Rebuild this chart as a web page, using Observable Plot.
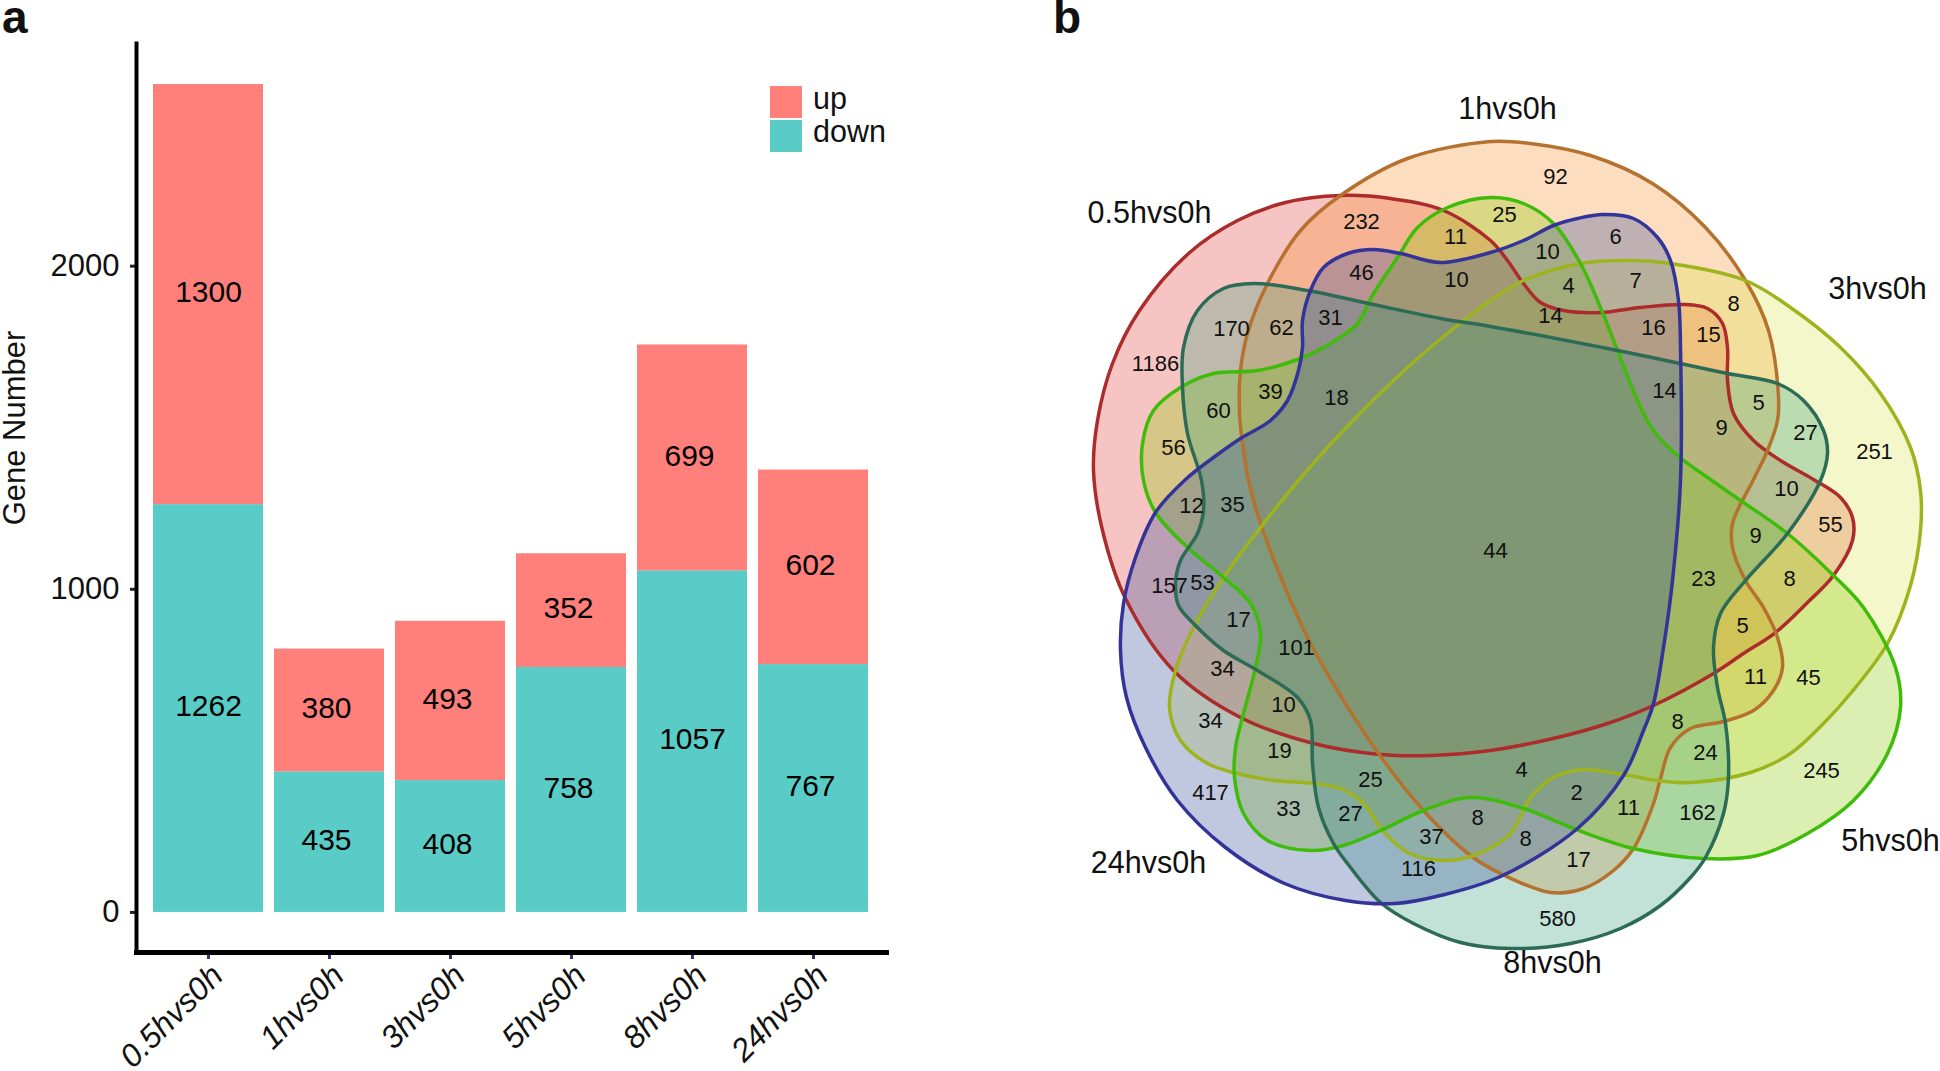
<!DOCTYPE html>
<html>
<head>
<meta charset="utf-8">
<script src="https://cdn.jsdelivr.net/npm/d3@7"></script>
<script src="https://cdn.jsdelivr.net/npm/@observablehq/plot@0.6"></script>
<style>
html,body{margin:0;padding:0;background:#fff;width:1940px;height:1071px;overflow:hidden;font-family:"Liberation Sans",sans-serif}
#a,#b{position:absolute;top:0}
#a{left:0}#b{left:960px}
.tag{position:absolute;top:3px;font-weight:bold;font-size:46px;line-height:28px;color:#111}
.sw{position:absolute;left:770px;width:32px;height:32px}
.lg{position:absolute;left:813px;font-size:30.5px;line-height:32px;color:#111}
</style>
</head>
<body>
<div id="a"></div><div id="b"></div>
<div class="tag" style="left:2px">a</div>
<div class="tag" style="left:1053px">b</div>
<div id="legend"></div>
<script>
// Panel a
const categories = ["0.5hvs0h","1hvs0h","3hvs0h","5hvs0h","8hvs0h","24hvs0h"];
const upValues   = [1300,380,493,352,699,602];
const downValues = [1262,435,408,758,1057,767];
const seriesNames = ["up","down"];
const seriesColors = ["#FF7F7A","#59CCC7"];
const yTicks = [0,1000,2000];

// Panel b: set outlines, in picture units
const set05 = [[1093,470],[1097,420],[1112,363],[1139,310],[1188,253],[1237,220],[1285,202],[1340,195],[1390,198],[1443,210],[1490,240],[1507,260],[1523,283],[1540,302],[1563,310],[1600,312],[1640,307],[1683,304],[1707,308],[1722,323],[1727,347],[1727,380],[1733,413],[1753,440],[1780,460],[1813,479],[1840,497],[1852,517],[1852,540],[1833,575],[1807,602],[1775,632],[1743,653],[1713,673],[1653,705],[1607,723],[1557,737],[1490,750],[1430,755],[1380,754],[1313,743],[1240,717],[1173,670],[1125,598],[1102,530]];
const set1 = [[1490,141],[1407,158],[1340,195],[1300,230],[1267,283],[1247,333],[1240,370],[1239,413],[1242,443],[1248,480],[1260,523],[1287,593],[1310,643],[1343,700],[1378,753],[1423,810],[1470,855],[1500,873],[1550,892],[1583,888],[1613,870],[1633,848],[1653,803],[1660,778],[1670,747],[1690,728],[1723,721],[1753,710],[1773,690],[1782,667],[1777,637],[1763,607],[1745,580],[1732,547],[1732,523],[1753,479],[1767,450],[1777,420],[1778,397],[1768,330],[1745,280],[1705,227],[1652,183],[1590,155],[1530,143]];
const set3 = [[1490,300],[1523,280],[1580,263],[1630,260],[1670,263],[1745,280],[1790,307],[1840,347],[1880,393],[1910,447],[1920,490],[1920,530],[1910,585],[1887,643],[1850,693],[1823,723],[1790,753],[1750,772],[1690,782],[1657,780],[1617,773],[1583,769],[1553,777],[1530,797],[1510,833],[1473,855],[1443,860],[1407,852],[1382,830],[1363,803],[1340,788],[1313,783],[1273,780],[1237,773],[1207,763],[1180,740],[1169,707],[1175,670],[1193,627],[1223,577],[1260,527],[1298,480],[1340,433],[1407,367],[1463,320]];
const set5 = [[1490,197],[1447,207],[1417,227],[1397,257],[1373,293],[1357,323],[1330,343],[1300,358],[1257,370],[1213,373],[1180,387],[1153,410],[1142,443],[1143,480],[1155,512],[1187,547],[1223,577],[1250,603],[1260,633],[1255,667],[1243,713],[1235,747],[1234,777],[1243,813],[1267,840],[1310,850],[1343,845],[1380,830],[1423,810],[1470,797],[1523,808],[1573,828],[1633,848],[1703,858],[1757,855],[1807,833],[1853,800],[1887,753],[1900,707],[1895,667],[1863,607],[1833,575],[1787,533],[1740,500],[1710,479],[1677,455],[1653,430],[1637,400],[1617,350],[1600,307],[1580,263],[1553,223],[1523,203]];
const set8 = [[1490,326],[1617,350],[1680,363],[1727,373],[1777,383],[1803,400],[1823,430],[1827,453],[1820,480],[1787,533],[1745,580],[1720,613],[1713,647],[1717,687],[1725,723],[1728,777],[1723,813],[1705,857],[1690,877],[1660,905],[1620,928],[1570,943],[1510,948],[1460,942],[1413,923],[1380,902],[1347,863],[1333,843],[1318,807],[1312,763],[1310,720],[1297,697],[1257,670],[1223,650],[1193,623],[1178,605],[1175,583],[1180,560],[1197,533],[1203,510],[1201,480],[1187,433],[1182,387],[1183,347],[1197,310],[1223,288],[1253,283],[1307,290],[1368,303],[1440,318]];
const set24 = [[1680,480],[1680,347],[1678,300],[1670,260],[1657,237],[1633,218],[1603,214],[1577,218],[1553,225],[1523,240],[1490,252],[1440,262],[1400,253],[1373,249],[1347,253],[1323,267],[1310,290],[1302,320],[1302,347],[1298,370],[1287,400],[1270,420],[1240,438],[1213,457],[1185,479],[1155,512],[1135,557],[1123,603],[1120,650],[1126,697],[1145,747],[1177,800],[1225,847],[1284,883],[1345,900],[1395,903],[1440,895],[1500,876],[1577,828],[1623,775],[1643,730],[1653,703],[1663,647],[1672,580]];
const setFills = ["#E13A34","#F58E2A","#DAE44B","#8ACA00","#379E7A","#2D4898"];
const setStrokes = ["#AC2B2B","#B5722F","#9DB41E","#3FBC0A","#2C6B55","#33339A"];
const setOutlines = [set05,set1,set3,set5,set8,set24];

const setLabels = ["0.5hvs0h","1hvs0h","3hvs0h","5hvs0h","8hvs0h","24hvs0h"];
const setLabelX = [1149,1507,1877,1890,1552,1148];
const setLabelY = [213,109,289,841,963,863];

const regionText = ["232","11","46","10","170","62","31","1186","39","18","60","56","92","25","6","10","7","4","8","14","16","15","14","5","9","27","251","12","35","44","157","53","17","101","34","10","34","19","25","4","417","33","27","8","37","116","8","2","11","17","580","162","24","8","245","45","11","5","23","8","9","55","10"];
const regionX = [1361,1455,1361,1456,1231,1281,1330,1155,1270,1336,1218,1173,1555,1504,1615,1547,1635,1568,1733,1550,1653,1708,1664,1758,1721,1805,1874,1191,1232,1495,1169,1202,1238,1296,1222,1283,1210,1279,1370,1521,1210,1288,1350,1477,1431,1418,1525,1576,1628,1578,1557,1697,1705,1677,1821,1808,1755,1742,1703,1789,1755,1830,1786];
const regionY = [221,236,272,279,328,327,317,363,391,397,410,447,176,214,236,251,280,285,303,315,327,334,390,402,427,432,451,505,504,550,585,582,619,647,668,704,720,750,779,769,792,808,813,817,836,868,838,792,807,859,918,812,752,721,770,677,676,625,578,578,535,524,488];

// Tables
const rows = categories.flatMap((c,i)=>[
  {cat:c,series:"down",value:downValues[i],base:0},
  {cat:c,series:"up",value:upValues[i],base:downValues[i]}
]);
const font = '"Liberation Sans",sans-serif';
const mid = d=>d.base+d.value/2;

document.getElementById("a").append(Plot.plot({
  width:960,height:1071,marginLeft:136,marginRight:74,marginTop:43,marginBottom:119,
  style:{fontFamily:font,background:"transparent"},
  x:{domain:categories,range:[147.5,873.5],paddingInner:0.09,paddingOuter:0.045,align:0.5,label:null},
  y:{domain:[-124,2689],label:null},
  color:{domain:seriesNames,range:seriesColors},
  marks:[
    Plot.barY(rows,{x:"cat",y1:"base",y2:d=>d.base+d.value,fill:"series",inset:0}),
    Plot.text(rows.filter(d=>d.value<1000),{x:"cat",y:mid,text:d=>String(d.value),fontSize:30,dx:-3,dy:-2,fill:"#000"}),
    Plot.text(rows.filter(d=>d.value>=1000),{x:"cat",y:mid,text:d=>String(d.value),fontSize:30,dy:-2,fill:"#000"}),
    Plot.axisY({ticks:yTicks,tickFormat:d=>String(d),tickSize:6,tickPadding:11,fontSize:31,stroke:"#222",strokeWidth:3,label:null,fill:"#111"}),
    Plot.axisX({tickSize:7,tickFormat:()=>"",stroke:"#33337A",strokeWidth:3,label:null}),
    Plot.text(categories,{x:d=>d,frameAnchor:"bottom",lineAnchor:"middle",textAnchor:"end",rotate:-45,dx:9,dy:18,fontSize:32,fontStyle:"italic",fill:"#111"}),
    Plot.frame({anchor:"left",stroke:"#000",strokeWidth:4}),
    Plot.frame({anchor:"bottom",stroke:"#000",strokeWidth:5}),
    Plot.text(["Gene Number"],{frameAnchor:"left",textAnchor:"middle",rotate:-90,dx:-121,dy:-70,fontSize:31,fill:"#111"})
  ]
}));

const px=d=>d[0], py=d=>d[1];
const lineOpts = {x:px,y:py,curve:"catmull-rom-closed"};
document.getElementById("b").append(Plot.plot({
  width:980,height:1071,margin:0,
  style:{fontFamily:font,background:"transparent"},
  x:{domain:[960,1940],range:[0,980],axis:null},
  y:{domain:[0,1071],range:[0,1071],axis:null},
  marks:[
    ...setOutlines.map((o,i)=>Plot.line(o,{...lineOpts,fill:setFills[i],fillOpacity:0.3,stroke:"none"})),
    ...setOutlines.map((o,i)=>Plot.line(o,{...lineOpts,stroke:setStrokes[i],strokeWidth:3.5})),
    Plot.text(regionText,{x:(d,i)=>regionX[i],y:(d,i)=>regionY[i],text:d=>d,fontSize:22,fill:"#111"}),
    Plot.text(setLabels,{x:(d,i)=>setLabelX[i],y:(d,i)=>setLabelY[i],text:d=>d,fontSize:30.5,fill:"#111"})
  ]
}));

const legend=document.getElementById("legend");
seriesNames.forEach((s,i)=>{
  const top=86+i*34;
  const sw=document.createElement("div");sw.className="sw";sw.style.top=top+"px";sw.style.background=seriesColors[i];legend.append(sw);
  const t=document.createElement("div");t.className="lg";t.style.top=(top-4-i)+"px";t.textContent=s;legend.append(t);
});
</script>
</body>
</html>
